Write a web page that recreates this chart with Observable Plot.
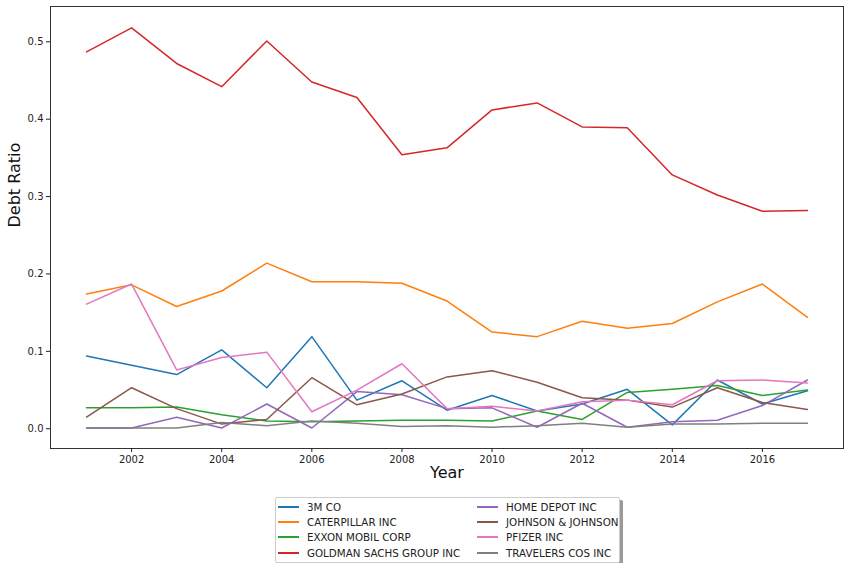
<!DOCTYPE html>
<html>
<head>
<meta charset="utf-8">
<script src="https://cdn.jsdelivr.net/npm/d3@7"></script>
<script src="https://cdn.jsdelivr.net/npm/@observablehq/plot@0.6"></script>
<style>
  body { margin: 0; background: #fff; font-family: "DejaVu Sans", sans-serif; }
  #chart svg { display: block; }
  #legend {
    margin: 7px 0 0 275px; width: 345px; height: 66px;
    border: 1px solid #ccc; background: #fff; box-sizing: border-box;
    box-shadow: 3px 3px 0 #999; border-radius: 2px;
    font-family: "DejaVu Sans", sans-serif; font-size: 10.3px; color: #222;
    display: grid; grid-template-columns: 199px 140px;
    grid-template-rows: repeat(4, 15.3px); grid-auto-flow: column;
    padding: 1px 0 0 2px;
  }
  .item { display: flex; align-items: center; white-space: nowrap; }
  .swatch { display: inline-block; flex: 0 0 21px; width: 21px; height: 2px; margin-right: 8px; }
</style>
</head>
<body>
<div id="chart"></div>
<div id="legend"></div>
<script>
const years = [2001,2002,2003,2004,2005,2006,2007,2008,2009,2010,2011,2012,2013,2014,2015,2016,2017];
const mmm       = [0.094,0.082,0.070,0.102,0.053,0.119,0.037,0.062,0.024,0.043,0.023,0.032,0.051,0.005,0.063,0.032,0.049];
const caterpillar = [0.174,0.186,0.158,0.178,0.214,0.190,0.190,0.188,0.165,0.125,0.119,0.139,0.130,0.136,0.164,0.187,0.144];
const exxon     = [0.027,0.027,0.028,0.018,0.010,0.009,0.010,0.011,0.011,0.010,0.023,0.012,0.047,0.051,0.056,0.043,0.050];
const goldman   = [0.487,0.518,0.472,0.442,0.501,0.448,0.428,0.354,0.363,0.412,0.421,0.390,0.389,0.328,0.302,0.281,0.282];
const homeDepot = [0.001,0.001,0.015,0.001,0.032,0.001,0.048,0.044,0.026,0.027,0.002,0.033,0.002,0.009,0.011,0.030,0.063];
const jnj       = [0.015,0.053,0.026,0.006,0.012,0.066,0.031,0.045,0.067,0.075,0.060,0.040,0.037,0.028,0.053,0.034,0.025];
const pfizer    = [0.161,0.187,0.076,0.092,0.099,0.022,0.050,0.084,0.026,0.029,0.023,0.035,0.037,0.031,0.062,0.063,0.059];
const travelers = [0.001,0.001,0.001,0.008,0.004,0.010,0.007,0.003,0.004,0.002,0.004,0.007,0.002,0.006,0.006,0.007,0.007];

const companies = ["3M CO","CATERPILLAR INC","EXXON MOBIL CORP","GOLDMAN SACHS GROUP INC","HOME DEPOT INC","JOHNSON & JOHNSON","PFIZER INC","TRAVELERS COS INC"];
const seriesValues = [mmm, caterpillar, exxon, goldman, homeDepot, jnj, pfizer, travelers];
const colors = ["#1f77b4","#ff7f0e","#2ca02c","#d62728","#9467bd","#8c564b","#e377c2","#7f7f7f"];
const yTicks = [0, 0.1, 0.2, 0.3, 0.4, 0.5];
const xTicks = [2002, 2004, 2006, 2008, 2010, 2012, 2014, 2016];

const data = [];
companies.forEach((c, i) => years.forEach((y, j) => data.push({company: c, year: y, value: seriesValues[i][j]})));

const chart = Plot.plot({
  width: 850, height: 490,
  marginLeft: 50, marginRight: 7, marginTop: 6, marginBottom: 42,
  style: {fontFamily: "DejaVu Sans, sans-serif", fontSize: "10px", color: "#222", background: "#fff"},
  x: {domain: [2000.2, 2017.8]},
  y: {domain: [-0.0255, 0.5456]},
  color: {domain: companies, range: colors},
  marks: [
    Plot.lineY(data, {x: "year", y: "value", stroke: "company", strokeWidth: 1.5}),
    Plot.frame({stroke: "#333", strokeWidth: 1}),
    Plot.axisY({ticks: yTicks, tickFormat: d3.format(".1f"), tickSize: 4, tickPadding: 3, label: null}),
    Plot.axisX({ticks: xTicks, tickFormat: d => String(d), tickSize: 4, tickPadding: 3, label: null}),
    Plot.text(["Debt Ratio"], {frameAnchor: "left", dx: -36, rotate: -90, fontSize: 16, fill: "#111"}),
    Plot.text(["Year"], {frameAnchor: "bottom", dy: 29, fontSize: 16, fill: "#111"})
  ]
});
document.getElementById("chart").appendChild(chart);

const legend = document.getElementById("legend");
companies.forEach((c, i) => {
  const it = document.createElement("div");
  it.className = "item";
  const sw = document.createElement("span");
  sw.className = "swatch";
  sw.style.backgroundColor = colors[i];
  it.appendChild(sw);
  it.appendChild(document.createTextNode(c));
  legend.appendChild(it);
});
</script>
</body>
</html>
